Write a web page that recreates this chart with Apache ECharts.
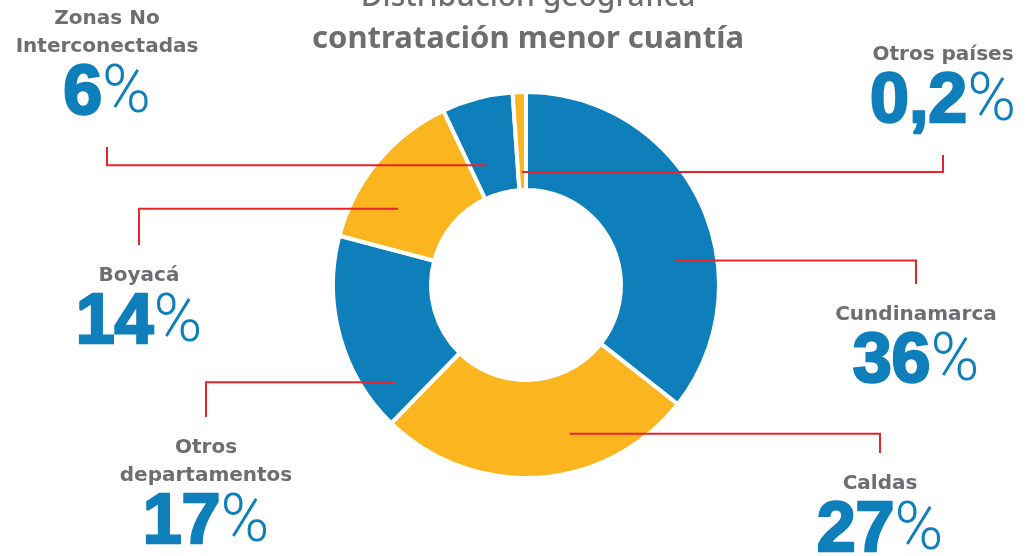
<!DOCTYPE html>
<html>
<head>
<meta charset="utf-8">
<title>Distribución geográfica contratación menor cuantía</title>
<script src="https://cdn.jsdelivr.net/npm/echarts@6/dist/echarts.min.js"></script>
<style>
	html, body { margin: 0; padding: 0; background: #fff; }
	#main { width: 1031px; height: 556px; }
</style>
</head>
<body>
<div id="main"></div>
<script>
// datos del gráfico
var categorias = ['Cundinamarca', 'Caldas', 'Otros departamentos', 'Boyacá', 'Zonas No Interconectadas', 'Otros países'];
var porcentajes = [36, 27, 17, 14, 6, 0.2];
// texto de las etiquetas (con saltos de línea)
var etiquetas = ['Cundinamarca', 'Caldas', 'Otros\ndepartamentos', 'Boyacá', 'Zonas No\nInterconectadas', 'Otros países'];

var azul = '#0e7fbb';
var amarillo = '#fbb61f';
var rojo = '#e5252b';
var gris = '#6d6e71';
var colores = [azul, amarillo, azul, amarillo, azul, amarillo];

// posición de las etiquetas (centro, borde superior)
var etiquetaPos = [[916, 301], [880, 470], [206, 434], [139, 262], [107, 5], [943, 41]];
// dónde arranca cada línea roja: fracción dentro del sector y fracción del anillo
var lineaT = [0.63, 0.37, 0.15, 0.32, 0.33, 0.5];
var lineaR = [0.585, 0.617, 0.70, 0.553, 0.31, 0.17];

var centro = [526, 285];
var rIn = 95, rOut = 193, anguloMin = 4;
var altoNombre = 28, altoValor = 68;

// misma cuenta que hace echarts con minAngle, para ubicar los puntos de inicio
function calcAnclas () {
	var total = porcentajes.reduce(function (a, b) { return a + b; }, 0);
	var resto = 360, sumaGrandes = 0;
	var ang = porcentajes.map(function (v) { return v / total * 360; });
	ang.forEach(function (a, i) {
		if (a < anguloMin) resto -= anguloMin;
		else sumaGrandes += porcentajes[i];
	});
	var acc = 0;
	return porcentajes.map(function (v, i) {
		var a = ang[i] < anguloMin ? anguloMin : v / sumaGrandes * resto;
		var theta = (acc + a * lineaT[i]) * Math.PI / 180 - Math.PI / 2;
		acc += a;
		var r = (rIn + 2) + lineaR[i] * ((rOut - 2) - (rIn + 2));
		return [centro[0] + r * Math.cos(theta), centro[1] + r * Math.sin(theta)];
	});
}
var anclas = calcAnclas();

// líneas rojas: horizontal desde el sector y luego vertical hacia la etiqueta
var lineas = anclas.map(function (a, i) {
	var pos = etiquetaPos[i];
	var h = etiquetas[i].split('\n').length * altoNombre + altoValor;
	var yFin = pos[1] > a[1] ? pos[1] - 17 : pos[1] + h + 18;
	return {
		type: 'polyline',
		z: 100,
		silent: true,
		shape: { points: [a, [pos[0], a[1]], [pos[0], yFin]] },
		style: { stroke: rojo, lineWidth: 2, fill: null }
	};
});

var myChart = echarts.init(document.getElementById('main'));
var option = {
	animation: false,
	title: {
		text: '{a|Distribución geográfica}\n{b|contratación menor cuantía}',
		left: 528,
		top: -24,
		padding: 0,
		textAlign: 'center',
		textStyle: {
			rich: {
				a: { fontFamily: 'Noto Sans', fontWeight: 500, fontSize: 30, color: gris, lineHeight: 42 },
				b: { fontFamily: 'Noto Sans', fontWeight: 'bold', fontSize: 31, color: gris, lineHeight: 42 }
			}
		}
	},
	graphic: lineas,
	series: [{
		type: 'pie',
		center: centro,
		radius: [rIn, rOut],
		startAngle: 90,
		clockwise: true,
		minAngle: anguloMin,
		avoidLabelOverlap: false,
		itemStyle: {
			borderColor: '#fff',
			borderWidth: 4
		},
		label: {
			show: true,
			position: 'outside',
			formatter: function (p) {
				var nombre = etiquetas[p.dataIndex].split('\n').map(function (s) {
					return '{n|' + s + '}';
				}).join('\n');
				return nombre + '\n{v|' + String(p.value).replace('.', ',') + '}{p|%}';
			},
			rich: {
				n: { fontFamily: 'DejaVu Sans', fontWeight: 'bold', fontSize: 20, color: gris, lineHeight: altoNombre, align: 'center' },
				v: {
					fontFamily: 'Liberation Sans', fontWeight: 'bold', fontSize: 70, color: azul, lineHeight: altoValor,
					textBorderColor: azul, textBorderWidth: 2.5
				},
				p: { fontFamily: 'Roboto', fontWeight: 300, fontSize: 66, color: azul, lineHeight: altoValor }
			}
		},
		labelLine: { show: false },
		labelLayout: function (p) {
			var pos = etiquetaPos[p.dataIndex];
			return { x: pos[0], y: pos[1], align: 'center', verticalAlign: 'top' };
		},
		emphasis: { disabled: true },
		data: categorias.map(function (c, i) {
			return { name: c, value: porcentajes[i], itemStyle: { color: colores[i] } };
		})
	}]
};
myChart.setOption(option);
</script>
</body>
</html>
